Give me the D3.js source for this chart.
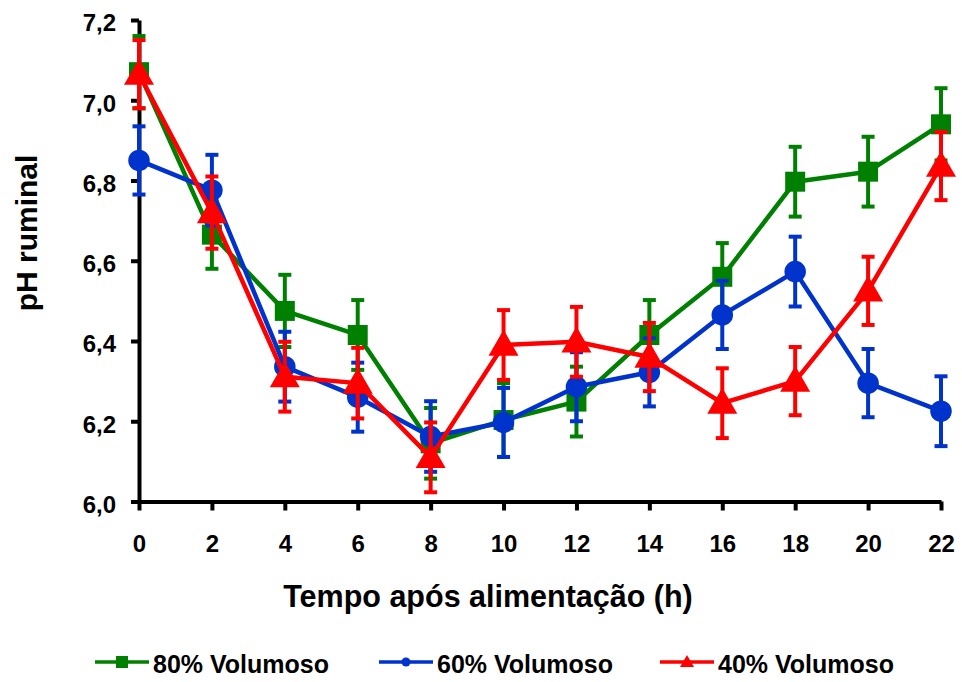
<!DOCTYPE html>
<html>
<head>
<meta charset="utf-8">
<script src="https://cdn.jsdelivr.net/npm/d3@7"></script>
<style>
  body { margin: 0; background: #fff; }
  text { font-family: "Liberation Sans", Arial, sans-serif; font-weight: bold; fill: #000; }
</style>
</head>
<body>
<div id="chart"></div>
<script>
// hours after feeding
var hours = [0, 2, 4, 6, 8, 10, 12, 14, 16, 18, 20, 22];
var yTicks = [6.0, 6.2, 6.4, 6.6, 6.8, 7.0, 7.2];

var seriesNames = ["80% Volumoso", "60% Volumoso", "40% Volumoso"];

var ph80 = [7.07, 6.665, 6.475, 6.415, 6.145, 6.203, 6.249, 6.415, 6.56, 6.797, 6.822, 6.94];
var ph60 = [6.85, 6.776, 6.336, 6.26, 6.162, 6.197, 6.286, 6.322, 6.465, 6.573, 6.295, 6.225];
var ph40 = [7.065, 6.72, 6.311, 6.295, 6.11, 6.39, 6.398, 6.36, 6.245, 6.30, 6.525, 6.836];

var se80 = [0.09, 0.085, 0.09, 0.087, 0.088, 0.092, 0.087, 0.087, 0.084, 0.087, 0.087, 0.09];
var se60 = [0.085, 0.088, 0.087, 0.086, 0.088, 0.086, 0.086, 0.085, 0.085, 0.087, 0.085, 0.087];
var se40 = [0.085, 0.09, 0.087, 0.088, 0.087, 0.087, 0.087, 0.085, 0.087, 0.085, 0.085, 0.085];

var width = 962, height = 682;

var svg = d3.select("#chart").append("svg")
    .attr("width", width)
    .attr("height", height);

var x = d3.scaleLinear().domain([0, 22]).range([139, 941]);
var y = d3.scaleLinear().domain([6.0, 7.2]).range([501.5, 20]);

var fmt = function (d) { return d3.format(".1f")(d).replace(".", ","); };

// axes
var yAxis = svg.append("g")
    .attr("transform", "translate(139,0)")
    .call(d3.axisLeft(y).tickValues(yTicks).tickFormat(fmt)
        .tickSize(8).tickSizeOuter(0).tickPadding(15));
yAxis.selectAll("text").attr("dy", "0.45em").style("font-size", "24px");

var xAxis = svg.append("g")
    .attr("transform", "translate(0,501.5)")
    .call(d3.axisBottom(x).tickValues(hours).tickFormat(d3.format("d"))
        .tickSize(9).tickSizeOuter(0).tickPadding(25));
xAxis.selectAll("text").attr("dy", "0.68em").style("font-size", "24px");

svg.selectAll(".domain, .tick line")
    .attr("stroke", "#000")
    .attr("stroke-width", 4);

svg.append("text")
    .attr("transform", "translate(37,233) rotate(-90)")
    .attr("text-anchor", "middle")
    .style("font-size", "30px")
    .text("pH ruminal");

svg.append("text")
    .attr("x", 488)
    .attr("y", 607)
    .attr("text-anchor", "middle")
    .style("font-size", "30.5px")
    .text("Tempo após alimentação (h)");

var series = [
    { name: seriesNames[0], values: ph80, se: se80, color: "#008000", shape: "square" },
    { name: seriesNames[1], values: ph60, se: se60, color: "#0033cc", shape: "circle" },
    { name: seriesNames[2], values: ph40, se: se40, color: "#ff0000", shape: "triangle" }
];

var line = d3.line()
    .x(function (d) { return x(d.h); })
    .y(function (d) { return y(d.v); });

function marker(g, shape, color, size) {
    var sym = shape === "square" ? d3.symbolSquare : (shape === "circle" ? d3.symbolCircle : d3.symbolTriangle);
    var area = shape === "square" ? size * size : (shape === "circle" ? Math.PI * size * size / 4 : size * size * 0.433);
    g.append("path")
        .attr("d", d3.symbol().type(sym).size(area)())
        .attr("fill", color);
}

series.forEach(function (s) {
    var pts = hours.map(function (h, i) { return { h: h, v: s.values[i], e: s.se[i] }; });
    var g = svg.append("g");

    // error bars
    var eb = g.selectAll("g.err").data(pts).enter().append("g")
        .attr("stroke", s.color)
        .attr("stroke-width", 4);
    eb.append("line")
        .attr("x1", function (d) { return x(d.h); })
        .attr("x2", function (d) { return x(d.h); })
        .attr("y1", function (d) { return y(d.v + d.e); })
        .attr("y2", function (d) { return y(d.v - d.e); });
    eb.append("line")
        .attr("x1", function (d) { return x(d.h) - 6.5; })
        .attr("x2", function (d) { return x(d.h) + 6.5; })
        .attr("y1", function (d) { return y(d.v + d.e); })
        .attr("y2", function (d) { return y(d.v + d.e); });
    eb.append("line")
        .attr("x1", function (d) { return x(d.h) - 6.5; })
        .attr("x2", function (d) { return x(d.h) + 6.5; })
        .attr("y1", function (d) { return y(d.v - d.e); })
        .attr("y2", function (d) { return y(d.v - d.e); });

    g.append("path")
        .datum(pts)
        .attr("d", line)
        .attr("fill", "none")
        .attr("stroke", s.color)
        .attr("stroke-width", 4.5)
        .attr("stroke-linejoin", "round");

    var mk = g.selectAll("g.mk").data(pts).enter().append("g")
        .attr("transform", function (d) {
            var dy = s.shape === "triangle" ? 2 : 0;
            return "translate(" + x(d.h) + "," + (y(d.v) + dy) + ")";
        });
    mk.each(function () {
        var size = s.shape === "square" ? 20 : (s.shape === "circle" ? 21.5 : 30);
        marker(d3.select(this), s.shape, s.color, size);
    });
});

// legend
var legendX = [95, 379, 660];
var legend = svg.append("g");
series.forEach(function (s, i) {
    var lg = legend.append("g").attr("transform", "translate(" + legendX[i] + ",662)");
    lg.append("line")
        .attr("x1", 0).attr("x2", 54)
        .attr("stroke", s.color)
        .attr("stroke-width", 3.5);
    var m = lg.append("g").attr("transform", "translate(27," + (s.shape === "triangle" ? 1 : 0) + ")");
    var size = s.shape === "square" ? 12 : (s.shape === "circle" ? 9 : 14);
    marker(m, s.shape, s.color, size);
    lg.append("text")
        .attr("x", 58)
        .attr("y", 11)
        .style("font-size", "25px")
        .text(s.name);
});
</script>
</body>
</html>
